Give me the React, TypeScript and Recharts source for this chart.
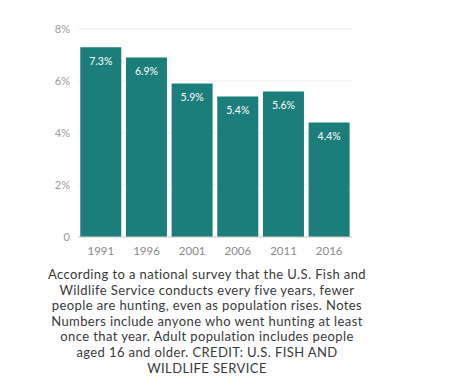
import React from "react";
import { BarChart, Bar, XAxis, YAxis, CartesianGrid, LabelList } from "recharts";

const years = ["1991", "1996", "2001", "2006", "2011", "2016"];
const shares = [7.3, 6.9, 5.9, 5.4, 5.6, 4.4];
const yTicks = [0, 2, 4, 6, 8];
const captionLines = [
  "According to a national survey that the U.S. Fish and",
  "Wildlife Service conducts every five years, fewer",
  "people are hunting, even as population rises. Notes",
  "Numbers include anyone who went hunting at least",
  "once that year. Adult population includes people",
  "aged 16 and older. CREDIT: U.S. FISH AND",
  "WILDLIFE SERVICE",
];

const data = years.map((y, i) => ({ year: y, value: shares[i] }));

const FONT = "Lato, 'Open Sans', sans-serif";

export default function App() {
  return (
    <div style={{ fontFamily: FONT }}>
      <BarChart
        width={360}
        height={253}
        data={data}
        margin={{ top: 21, right: 16, bottom: 0, left: 0 }}
        barCategoryGap="5%"
      >
        <CartesianGrid vertical={false} stroke="#efefef" />
        <XAxis
          dataKey="year"
          height={24}
          tickLine={false}
          tickMargin={4}
          axisLine={{ stroke: "#d0d0d0" }}
          tick={{ fill: "#8a8a8a", fontSize: 11.5, fontFamily: FONT }}
        />
        <YAxis
          width={70}
          domain={[0, 8]}
          ticks={yTicks}
          tickFormatter={(v: number) => (v === 0 ? "0" : `${v}%`)}
          axisLine={false}
          tickLine={false}
          tickMargin={2}
          tick={{ fill: "#9a9a9a", fontSize: 11, fontFamily: FONT }}
        />
        <Bar dataKey="value" fill="#1b7e7a" isAnimationActive={false}>
          <LabelList
            dataKey="value"
            position="insideTop"
            offset={10}
            formatter={(v: number) => `${v.toFixed(1)}%`}
            style={{ fill: "#ffffff", fontSize: 10.5, fontFamily: FONT }}
          />
        </Bar>
      </BarChart>
      <div
        style={{
          width: 398,
          marginTop: 6,
          textAlign: "center",
          fontSize: 13,
          letterSpacing: "0.4px",
          lineHeight: "15.6px",
          color: "#3a3a3a",
        }}
      >
        {captionLines.map((l, i) => (
          <div key={i}>{l}</div>
        ))}
      </div>
    </div>
  );
}
